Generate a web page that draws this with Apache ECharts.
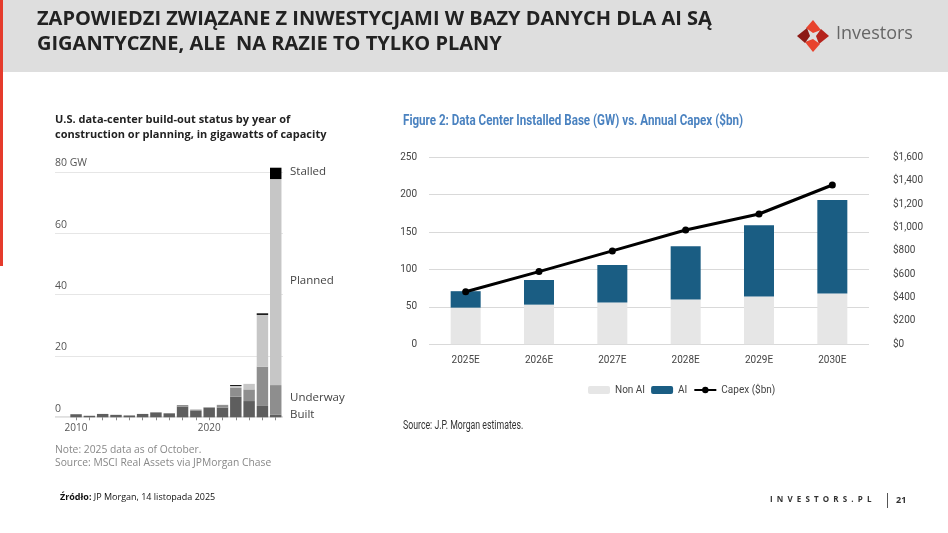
<!DOCTYPE html>
<html><head><meta charset="utf-8">
<script src="https://cdn.jsdelivr.net/npm/echarts@6/dist/echarts.min.js"></script>
<style>html,body{margin:0;padding:0;background:#fff}#c{width:948px;height:533px}</style>
</head><body><div id="c"></div>
<script>
// Left chart: U.S. data-center build-out status (GW)
const years = ['2010','2011','2012','2013','2014','2015','2016','2017','2018','2019','2020','2021','2022','2023','2024','2025'];
const built    = [1.0,0.5,1.1,0.8,0.6,1.1,1.6,1.3,3.5,2.1,3.1,3.2,6.7,5.3,3.7,0.8];
const underway = [0,0,0,0,0,0,0,0,0.5,0.4,0.2,0.8,2.9,3.8,12.8,9.7];
const planned  = [0,0,0,0,0,0,0,0,0,0.1,0,0.1,0.6,1.8,16.9,67.2];
const stalled  = [0,0,0,0,0,0,0,0,0,0,0,0,0.3,0,0.5,3.7];
const leftTicks = [0,20,40,60,80];

// Right chart: Data Center Installed Base (GW) vs. Annual Capex ($bn)
const cats2 = ['2025E','2026E','2027E','2028E','2029E','2030E'];
const nonAI = [49,53,56,60,64,68];
const ai    = [22,33,50,71,95,125];
const capex = [450,622,799,978,1115,1363];

const NARROW = "'Liberation Sans Narrow','Arial Narrow','Roboto',sans-serif";
const chart = echarts.init(document.getElementById('c'), null, {renderer:'canvas'});

const option = {
  animation:false,
  backgroundColor:'#ffffff',
  graphic:[
    {type:'rect', shape:{x:0,y:0,width:948,height:72}, style:{fill:'#dedede'}, z:-10},
    {type:'rect', shape:{x:0,y:0,width:3,height:266}, style:{fill:'#e53b2c'}, z:10},
    {type:'text', x:37, y:7, style:{text:'ZAPOWIEDZI ZWIĄZANE Z INWESTYCJAMI W BAZY DANYCH DLA AI SĄ\nGIGANTYCZNE, ALE  NA RAZIE TO TYLKO PLANY', font:"bold 20px 'Open Sans'", fill:'#222', lineHeight:25}},
    // logo
    {type:'polygon', shape:{points:[[813,20],[821,30],[813,33],[806,28]]}, style:{fill:'#e8432d'}},
    {type:'polygon', shape:{points:[[829,36],[819,44],[816,36],[821,29]]}, style:{fill:'#b5231c'}},
    {type:'polygon', shape:{points:[[813,52],[805,42],[813,39],[820,44]]}, style:{fill:'#e8432d'}},
    {type:'polygon', shape:{points:[[797,36],[807,28],[810,36],[805,43]]}, style:{fill:'#8c1a16'}},
    {type:'text', x:836, y:25, style:{text:'Investors', font:"18px 'Open Sans'", fill:'#666'}},
    // left chart texts
    {type:'text', x:55, y:112, style:{text:'U.S. data-center build-out status by year of\nconstruction or planning, in gigawatts of capacity', font:"bold 11px 'Open Sans'", fill:'#222', lineHeight:15}},
    {type:'text', x:290, y:166, style:{text:'Stalled', font:"11.5px 'Open Sans'", fill:'#444'}},
    {type:'text', x:290, y:275, style:{text:'Planned', font:"11.5px 'Open Sans'", fill:'#444'}},
    {type:'text', x:290, y:392, style:{text:'Underway', font:"11.5px 'Open Sans'", fill:'#444'}},
    {type:'text', x:290, y:409, style:{text:'Built', font:"11.5px 'Open Sans'", fill:'#444'}},
    {type:'text', x:55, y:444, style:{text:'Note: 2025 data as of October.\nSource: MSCI Real Assets via JPMorgan Chase', font:"10.3px 'Open Sans'", fill:'#888', lineHeight:13}},
    // right chart texts
    {type:'text', x:403, y:113, scaleX:0.75, style:{text:'Figure 2: Data Center Installed Base (GW) vs. Annual Capex ($bn)', font:"bold 15.5px "+NARROW, fill:'#4a82c0'}},
    {type:'text', x:403, y:419, scaleX:0.70, style:{text:'Source: J.P. Morgan estimates.', font:"12.5px "+NARROW, fill:'#333'}},
    // footer
    {type:'text', x:60, y:493, style:{rich:{b:{font:"bold 9px 'Open Sans'", fill:'#111'}, n:{font:"9px 'Open Sans'", fill:'#111'}}, text:'{b|Źródło:}{n| JP Morgan, 14 listopada 2025}'}},
    {type:'text', x:770, y:496, style:{text:'I  N  V  E  S  T  O  R  S  .  P  L', font:"bold 8px 'Open Sans'", fill:'#333'}},
    {type:'rect', shape:{x:887,y:493,width:1,height:15}, style:{fill:'#555'}},
    {type:'text', x:896, y:496, style:{text:'21', font:"bold 9px 'Open Sans'", fill:'#333'}},
    {type:'line', shape:{x1:55,y1:417.3,x2:283,y2:417.3}, style:{stroke:'#666', lineWidth:1}}
  ],
  legend:{
    data:['Non AI','AI','Capex ($bn)'],
    left:583, top:380, itemGap:6, itemWidth:22, itemHeight:8,
    textStyle:{fontFamily:NARROW, fontSize:10, color:'#444'}
  },
  grid:[
    {left:55, top:172, width:228, height:245.3},
    {left:69.4, top:172, width:213, height:245.3},
    {left:429, top:157.3, width:440, height:187}
  ],
  xAxis:[
    {gridIndex:0, type:'value', min:0, max:1, show:false},
    {gridIndex:1, type:'category', data:years, boundaryGap:true,
      axisLine:{show:false},
      axisTick:{show:true, alignWithLabel:true, length:3, lineStyle:{color:'#888'}, interval:0},
      axisLabel:{interval:(i)=>i===0||i===10, color:'#555', fontFamily:'Open Sans', fontSize:10, margin:6}},
    {gridIndex:2, type:'category', data:cats2,
      axisLine:{show:false}, axisTick:{show:false},
      axisLabel:{color:'#444', fontFamily:NARROW, fontSize:10, margin:11}}
  ],
  yAxis:[
    {gridIndex:0, type:'value', min:0, max:80, interval:20,
      axisLine:{show:false}, axisTick:{show:false},
      splitLine:{lineStyle:{color:'#e6e6e6'}},
      axisLabel:{inside:true, verticalAlign:'bottom', margin:0, color:'#555', fontFamily:'Open Sans', fontSize:10.5,
        formatter:(v)=> v===80 ? '80 GW' : String(v), padding:[0,0,3,0]}},
    {gridIndex:1, type:'value', min:0, max:80, interval:20, show:false},
    {gridIndex:2, type:'value', min:0, max:250, interval:50,
      axisLine:{show:false}, axisTick:{show:false},
      splitLine:{lineStyle:{color:'#d9d9d9'}},
      axisLabel:{color:'#444', fontFamily:NARROW, fontSize:10, margin:12}},
    {gridIndex:2, type:'value', min:0, max:1600, interval:200, position:'right',
      axisLine:{show:false}, axisTick:{show:false}, splitLine:{show:false},
      axisLabel:{color:'#444', fontFamily:NARROW, fontSize:10, margin:24,
        formatter:(v)=>'$'+v.toLocaleString('en-US')}}
  ],
  series:[
    {name:'Built', type:'bar', xAxisIndex:1, yAxisIndex:1, stack:'l', data:built, barCategoryGap:'14%', itemStyle:{color:'#5e5e5e'}, clip:false},
    {name:'Underway', type:'bar', xAxisIndex:1, yAxisIndex:1, stack:'l', data:underway, itemStyle:{color:'#8e8e8e'}, clip:false},
    {name:'Planned', type:'bar', xAxisIndex:1, yAxisIndex:1, stack:'l', data:planned, itemStyle:{color:'#c6c6c6'}, clip:false},
    {name:'Stalled', type:'bar', xAxisIndex:1, yAxisIndex:1, stack:'l', data:stalled, itemStyle:{color:'#000'}, clip:false},
    {name:'Non AI', type:'bar', xAxisIndex:2, yAxisIndex:2, stack:'r', data:nonAI, barWidth:30, itemStyle:{color:'#e6e6e6'}},
    {name:'AI', type:'bar', xAxisIndex:2, yAxisIndex:2, stack:'r', data:ai, barWidth:30, itemStyle:{color:'#1a5d83'}},
    {name:'Capex ($bn)', type:'line', xAxisIndex:2, yAxisIndex:3, data:capex, symbol:'circle', symbolSize:7,
      lineStyle:{color:'#000', width:3}, itemStyle:{color:'#000'}, z:5}
  ]
};
chart.setOption(option);
</script></body></html>
